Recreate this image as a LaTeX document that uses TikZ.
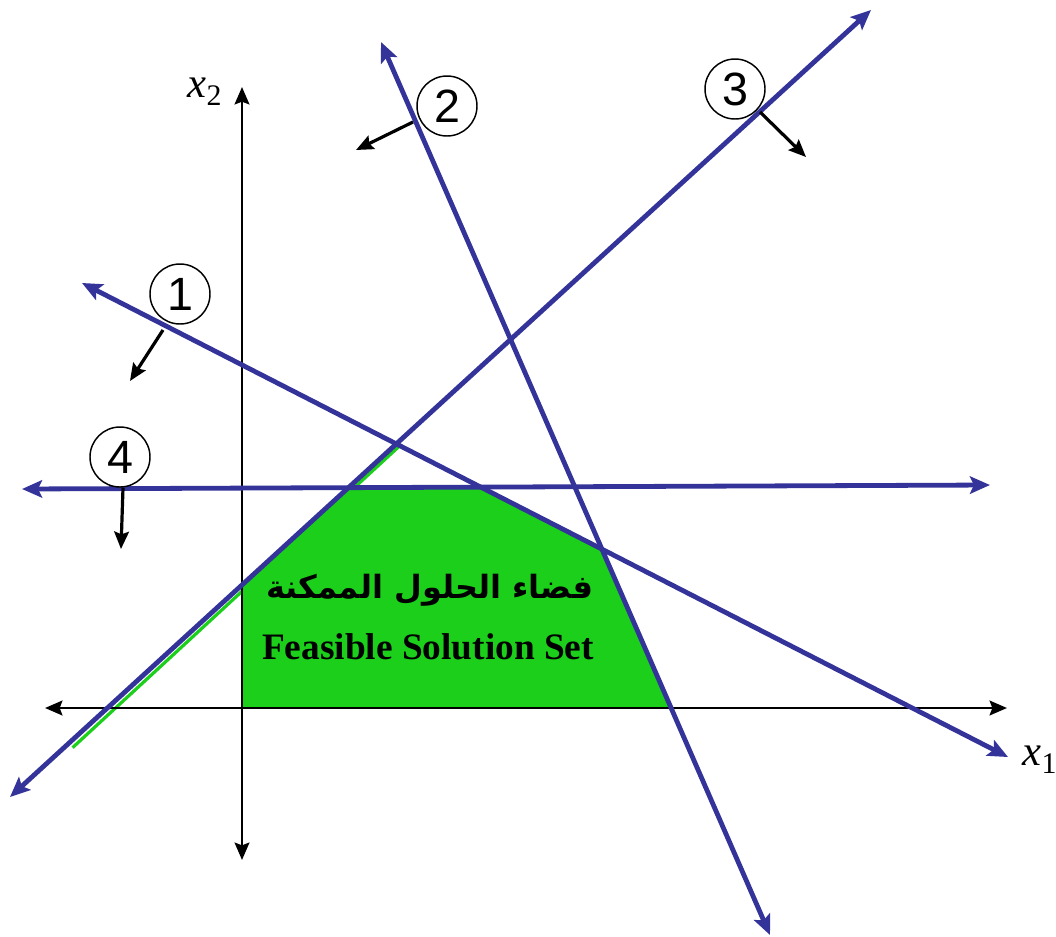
\documentclass[tikz,border=0pt]{standalone}
\usepackage{fontspec}
\setmainfont{Liberation Serif}
\setsansfont{Liberation Sans}
\newfontfamily\arabicfont[Script=Arabic]{DejaVu Sans}
\TeXXeTstate=1
\usetikzlibrary{arrows.meta}

\definecolor{lineblue}{RGB}{51,51,153}
\definecolor{feasgreen}{RGB}{27,207,27}

\begin{document}
\begin{tikzpicture}[x=0.75pt, y=-0.75pt,
    constraint/.style={lineblue, line width=3.6pt,
        {Stealth[length=15pt, width=13pt, inset=3pt]}-{Stealth[length=15pt, width=13pt, inset=3pt]}},
    axis/.style={black, line width=2.2pt,
        {Stealth[length=13pt, width=11pt, inset=2pt]}-{Stealth[length=13pt, width=11pt, inset=2pt]}},
    halfplane/.style={black, line width=2.4pt, -{Stealth[length=13pt, width=11pt, inset=2pt]}},
    cnum/.style={circle, draw, line width=1.1pt, fill=white, minimum size=45pt, inner sep=0pt,
        font=\sffamily\fontsize{35}{35}\selectfont},
    axlabel/.style={font=\fontsize{32}{32}\selectfont}]

    \useasboundingbox (0,0) rectangle (1056,936);

    % end points of the four constraint lines and the axes
    \coordinate (c1a) at (82,283);   \coordinate (c1b) at (1008,757);
    \coordinate (c2a) at (381,42);   \coordinate (c2b) at (770,935);
    \coordinate (c3a) at (10,797);   \coordinate (c3b) at (871,10);
    \coordinate (c4a) at (22,489);   \coordinate (c4b) at (990,485);
    \coordinate (x1a) at (45,708);   \coordinate (x1b) at (1007,708);
    \coordinate (x2a) at (242,860);  \coordinate (x2b) at (242,87);

    % feasible region
    \fill[feasgreen] (intersection of x1a--x1b and x2a--x2b)
        -- (intersection of c3a--c3b and x2a--x2b)
        -- (intersection of c3a--c3b and c4a--c4b)
        -- (intersection of c4a--c4b and c1a--c1b)
        -- (intersection of c1a--c1b and c2a--c2b)
        -- (intersection of c2a--c2b and x1a--x1b)
        -- cycle;
    % green edge left along line 3
    \coordinate (g1) at (70,745);
    \coordinate (g2) at (intersection of c3a--c3b and c1a--c1b);
    \draw[feasgreen, line width=2.4pt] ([shift={(2.6,2.6)}]g1) -- ([shift={(2.6,2.6)}]g2);

    % axes
    \draw[axis] (x1a) -- (x1b);
    \draw[axis] (x2a) -- (x2b);
    \node[axlabel] (lx1) at (1040,760) {\textit{x}\textsubscript{1}};
    \node[axlabel] (lx2) at (205,92) {\textit{x}\textsubscript{2}};

    % constraints
    \draw[constraint] (c1a) -- (c1b);
    \draw[constraint] (c2a) -- (c2b);
    \draw[constraint] (c3a) -- (c3b);
    \draw[constraint] (c4a) -- (c4b);

    % direction of each half plane
    \coordinate (p1) at (163,330);  \coordinate (q1) at (130,381);
    \coordinate (p2) at (413,122);  \coordinate (q2) at (356,150);
    \coordinate (p3) at (760,112);  \coordinate (q3) at (806,157);
    \coordinate (p4) at (123,488);  \coordinate (q4) at (121,549);
    \draw[halfplane] (p1) -- (q1);
    \draw[halfplane] (p2) -- (q2);
    \draw[halfplane] (p3) -- (q3);
    \draw[halfplane] (p4) -- (q4);

    \node[cnum] (n1) at (180,294) {1};
    \node[cnum] (n2) at (447,106) {2};
    \node[cnum] (n3) at (735,89) {3};
    \node[cnum] (n4) at (120,457) {4};

    % region text
    \node (arab) at (430,590) {\arabicfont\bfseries\fontsize{24}{24}\selectfont\beginR فضاء الحلول الممكنة\endR};
    \node (eng) at (428,647) {\bfseries\fontsize{28}{28}\selectfont Feasible Solution Set};

\end{tikzpicture}
\end{document}
